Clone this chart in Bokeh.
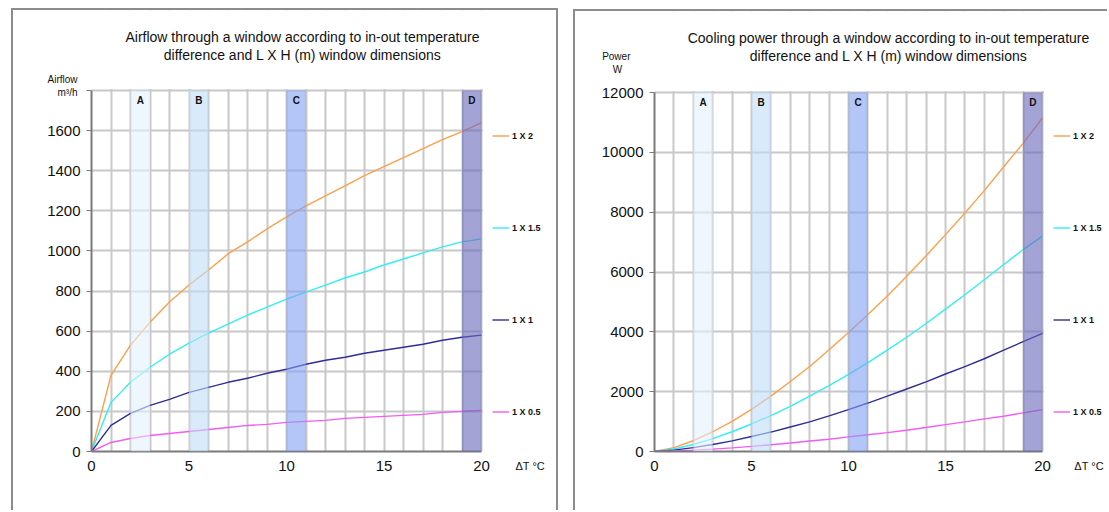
from bokeh.plotting import figure
from bokeh.models import Label, Legend, LegendItem, FixedTicker, BoxAnnotation, LinearAxis
from bokeh.layouts import row
from bokeh.embed import file_html
from bokeh.resources import INLINE

# ---------------- data ----------------
delta_t = list(range(0, 21))

series_labels = ["1 X 2", "1 X 1.5", "1 X 1", "1 X 0.5"]
series_colors = ["#FF9F4A", "#33EEF5", "#2E2E96", "#F25CF2"]

airflow_1x2 = [0, 380, 530, 645, 745, 830, 905, 985, 1045, 1110, 1170, 1225, 1275, 1325, 1375, 1420, 1465, 1510, 1555, 1595, 1640]
airflow_1x15 = [0, 245, 345, 420, 485, 540, 590, 635, 680, 720, 760, 795, 830, 865, 895, 930, 960, 990, 1020, 1045, 1060]
airflow_1x1 = [0, 130, 190, 230, 260, 295, 320, 345, 365, 390, 410, 435, 455, 470, 490, 505, 520, 535, 555, 570, 580]
airflow_1x05 = [0, 45, 65, 80, 90, 100, 110, 120, 130, 135, 145, 150, 155, 165, 170, 175, 180, 185, 195, 200, 205]

power_1x2 = [0, 130, 360, 660, 1010, 1410, 1850, 2340, 2840, 3400, 3980, 4580, 5200, 5860, 6540, 7250, 7970, 8720, 9520, 10300, 11150]
power_1x15 = [0, 85, 235, 430, 660, 920, 1200, 1510, 1850, 2200, 2580, 2970, 3390, 3820, 4280, 4760, 5240, 5740, 6250, 6750, 7200]
power_1x1 = [0, 45, 130, 235, 355, 500, 650, 820, 990, 1190, 1400, 1620, 1850, 2090, 2330, 2590, 2840, 3100, 3390, 3670, 3950]
power_1x05 = [0, 15, 45, 80, 120, 170, 225, 285, 350, 410, 490, 560, 630, 710, 800, 900, 990, 1090, 1180, 1290, 1400]

band_names = ["A", "B", "C", "D"]
band_start = [2, 5, 10, 19]
band_end = [3, 6, 11, 20]
band_colors = ["#E3F0FD", "#C0DEF8", "#80A0F2", "#6666BB"]

airflow_ticks = [0, 200, 400, 600, 800, 1000, 1200, 1400, 1600, 1800]
power_ticks = [0, 2000, 4000, 6000, 8000, 10000, 12000]
x_ticks = [0, 5, 10, 15, 20]
x_max = 20

airflow_title = ["Airflow through a window according to in-out temperature",
                 "difference and L X H (m) window dimensions"]
power_title = ["Cooling power through a window according to in-out temperature",
               "difference and L X H (m) window dimensions"]
x_unit_text = "ΔT °C"

FONT = "Liberation Sans"
GRID = "#C8C8C8"
AXIS = "#7A7A7A"
TXT = "#111111"


def style_hidden_axis(ax, size, standoff):
    ax.axis_line_alpha = 0
    ax.major_tick_in = 0
    ax.major_tick_out = 0
    ax.minor_tick_in = 0
    ax.minor_tick_out = 0
    ax.major_label_standoff = standoff
    ax.major_label_text_font = FONT
    ax.major_label_text_font_size = size
    ax.major_label_text_color = TXT


def make_panel(series, y_max, y_ticks, hidden_top_label, title_lines, width, height,
               cx0, cy0, frame_left, px_x, frame_bottom, px_y, title_cx, title_y,
               legend_x, unit_ticks, unit_texts, unit_standoff, dt_tick, margin, styles):
    # the plot frame spans from the data origin to the top/right edges of the canvas;
    # the area outside the data region is painted white again
    x_end = (cx0 + width - frame_left) / px_x
    y_end = (frame_bottom - cy0) / px_y
    p = figure(width=width, height=height, x_range=(0, x_end), y_range=(0, y_end),
               output_backend="svg", toolbar_location=None, title=None,
               min_border_left=frame_left - cx0, min_border_right=0, min_border_top=0,
               min_border_bottom=height - (frame_bottom - cy0),
               background_fill_color="white", border_fill_color="white",
               outline_line_alpha=0, margin=margin, styles=styles)

    def fx(px):
        return (px - frame_left) / px_x

    def fy(py):
        return (frame_bottom - py) / px_y

    # grids
    p.xgrid.ticker = FixedTicker(ticks=list(range(0, x_max + 1)))
    p.ygrid.ticker = FixedTicker(ticks=y_ticks)
    for g in (p.xgrid[0], p.ygrid[0]):
        g.grid_line_color = GRID
        g.grid_line_width = 2

    # main axes
    p.xaxis.ticker = FixedTicker(ticks=x_ticks)
    p.yaxis.ticker = FixedTicker(ticks=y_ticks)
    p.xaxis.bounds = (0, x_max)
    p.yaxis.bounds = (0, y_max)
    if hidden_top_label is not None:
        p.yaxis.major_label_overrides = {hidden_top_label: ""}
    for ax in (p.xaxis[0], p.yaxis[0]):
        ax.axis_line_color = AXIS
        ax.axis_line_width = 2
        ax.major_tick_line_color = AXIS
        ax.major_tick_line_width = 1
        ax.major_tick_in = 0
        ax.minor_tick_out = 0
        ax.minor_tick_in = 0
        ax.major_label_text_font = FONT
        ax.major_label_text_font_size = "15px"
        ax.major_label_text_color = TXT
    p.yaxis.major_tick_out = 5
    p.xaxis.major_tick_out = 0
    p.yaxis.major_label_standoff = 6
    p.xaxis.major_label_standoff = 9

    # small unit texts as extra axes
    ax_unit = LinearAxis(ticker=FixedTicker(ticks=unit_ticks),
                         major_label_overrides=dict(zip(unit_ticks, unit_texts)))
    style_hidden_axis(ax_unit, "10px", unit_standoff)
    p.add_layout(ax_unit, "left")

    ax_dt = LinearAxis(ticker=FixedTicker(ticks=[dt_tick]),
                       major_label_overrides={dt_tick: x_unit_text})
    style_hidden_axis(ax_dt, "11px", -14)
    p.add_layout(ax_dt, "below")

    # lines
    renderers = []
    for ys, c in zip(series, series_colors):
        r = p.line(delta_t, ys, line_color=c, line_width=1.4)
        renderers.append(r)

    # white covers outside the data region
    p.add_layout(BoxAnnotation(left=x_max + 1.5 / px_x, fill_color="white", fill_alpha=1,
                               line_alpha=0, level="annotation"))
    p.add_layout(BoxAnnotation(bottom=y_max + 1.5 / px_y, fill_color="white", fill_alpha=1,
                               line_alpha=0, level="annotation"))

    # bands drawn over the lines (semi-transparent)
    for b0, b1, bc in zip(band_start, band_end, band_colors):
        p.add_layout(BoxAnnotation(left=b0, right=b1, bottom=0, top=y_max, fill_color=bc,
                                   fill_alpha=0.6, line_alpha=0, level="annotation"))
    for name, b0, b1 in zip(band_names, band_start, band_end):
        p.add_layout(Label(x=(b0 + b1) / 2, y=fy(frame_bottom - y_max * px_y + 10), text=name,
                           text_align="center", text_baseline="middle",
                           text_font=FONT, text_font_size="10px", level="overlay",
                           text_font_style="bold", text_color=TXT))

    # titles
    for i, t in enumerate(title_lines):
        p.add_layout(Label(x=fx(title_cx), y=fy(title_y + i * 18), text=t,
                           text_align="center", text_baseline="middle", level="overlay",
                           text_font=FONT, text_font_size="14px", text_color=TXT))

    # legend
    items = [LegendItem(label=l, renderers=[r]) for l, r in zip(series_labels, renderers)]
    leg = Legend(items=items, location=(legend_x - frame_left, frame_bottom - 417),
                 orientation="vertical", padding=0, margin=0, spacing=81, level="overlay",
                 glyph_width=17, glyph_height=11, label_height=11, label_standoff=3,
                 label_text_font=FONT, label_text_font_size="9px",
                 label_text_font_style="bold", label_text_color=TXT,
                 background_fill_alpha=0, border_line_alpha=0)
    p.add_layout(leg)
    return p


BORDER = "2px solid #8C8C8C"

# ---------------- left: airflow ----------------
p1 = make_panel(
    [airflow_1x2, airflow_1x15, airflow_1x1, airflow_1x05], 1800, airflow_ticks, 1800,
    airflow_title, width=547, height=502, cx0=13, cy0=10,
    frame_left=91, px_x=19.5, frame_bottom=451, px_y=361 / 1800,
    title_cx=302, title_y=36, legend_x=492,
    unit_ticks=[1855, 1790], unit_texts=["Airflow", "m³/h"], unit_standoff=-33,
    dt_tick=22.5,
    margin=(8, 0, 0, 11),
    styles={"border-top": BORDER, "border-left": BORDER, "border-right": BORDER})

# ---------------- right: cooling power ----------------
p2 = make_panel(
    [power_1x2, power_1x15, power_1x1, power_1x05], 12000, power_ticks, None,
    power_title, width=534, height=501, cx0=575, cy0=11,
    frame_left=654, px_x=19.4, frame_bottom=451, px_y=359 / 12000,
    title_cx=888, title_y=37, legend_x=1053,
    unit_ticks=[13200, 12770], unit_texts=["Power", "W\u00a0\u00a0\u00a0"], unit_standoff=-32,
    dt_tick=22.4,
    margin=(9, 0, 0, 15),
    styles={"border-top": BORDER, "border-left": BORDER})

layout = row(p1, p2, spacing=0)
open("out.html", "w").write(file_html(layout, INLINE))
